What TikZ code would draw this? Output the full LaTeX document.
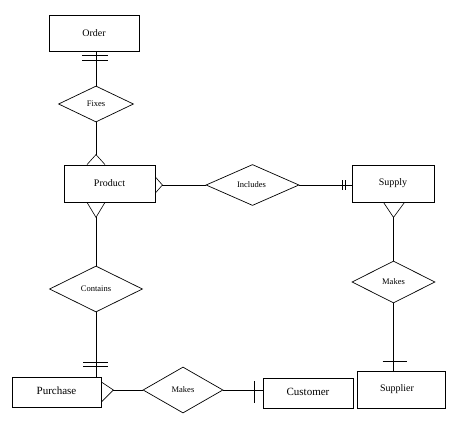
\documentclass[tikz,border=0pt]{standalone}
\usepackage{fontspec}
\setmainfont{Liberation Serif}
\usetikzlibrary{shapes.geometric,calc}
\begin{document}
\begin{tikzpicture}[x=1pt,y=-1pt,
  ent/.style={draw,line width=0.8pt,rectangle,inner sep=0pt,font=\fontsize{10}{12}\selectfont},
  bigent/.style={ent,font=\fontsize{11}{13}\selectfont},
  rel/.style={draw,line width=0.7pt,diamond,inner sep=0pt,font=\fontsize{8.5}{10}\selectfont},
  conn/.style={line width=0.8pt},
  foot/.style={line width=0.6pt}]
\useasboundingbox (0,0) rectangle (459,432);
% entities
\node[ent,minimum width=90pt,minimum height=36pt] (order) at (94,33) {Order};
\node[ent,minimum width=91pt,minimum height=37pt] (product) at (109.5,183.5) {Product};
\node[ent,minimum width=82pt,minimum height=37pt] (supply) at (393,183.5) {Supply};
\node[bigent,minimum width=89pt,minimum height=30pt] (purchase) at (56.5,392) {\raisebox{3pt}{Purchase}};
\node[bigent,minimum width=90pt,minimum height=30pt] (customer) at (308,393) {\raisebox{3pt}{Customer}};
\node[ent,minimum width=88pt,minimum height=37pt] (supplier) at (401,389.5) {\hspace*{-8pt}Supplier};
% relationships
\node[rel,minimum width=75pt,minimum height=36pt] (fixes) at (96,104) {Fixes};
\node[rel,minimum width=93pt,minimum height=41pt] (includes) at (252.5,185) {\hspace*{-2pt}Includes};
\node[rel,minimum width=93pt,minimum height=46pt] (contains) at (96,289) {Contains};
\node[rel,minimum width=80pt,minimum height=46pt] (makesA) at (183,390) {Makes};
\node[rel,minimum width=83pt,minimum height=42pt] (makesB) at (393.5,282) {Makes};
% Order -- Fixes
\draw[conn] (fixes.north |- order.south) -- (fixes.north);
\draw[conn] ($(fixes.north |- order.south)+(-14,4)$) -- ++(26,0);
\draw[conn] ($(fixes.north |- order.south)+(-14,9)$) -- ++(26,0);
% Fixes -- Product (many)
\coordinate (pt) at ($(fixes.south |- product.north)+(0,-10)$);
\draw[conn] (fixes.south) -- (pt);
\draw[foot] ($(pt)+(-9,10)$) -- (pt) -- ($(pt)+(9,10)$);
% Product -- Contains (many)
\coordinate (pb) at ($(contains.north |- product.south)+(0,15)$);
\draw[conn] (pb) -- (contains.north);
\draw[foot] ($(pb)+(-9,-15)$) -- (pb) -- ($(pb)+(9,-15)$);
% Product -- Includes (many)
\coordinate (pr) at ($(product.east |- includes.west)+(7,0)$);
\draw[conn] (pr) -- (includes.west);
\draw[foot] ($(pr)+(-7,-8)$) -- (pr) -- ($(pr)+(-7,8)$);
% Includes -- Supply (one and only one)
\draw[conn] (includes.east) -- (includes.east -| supply.west);
\draw[conn] ($(includes.east -| supply.west)+(-9,-5)$) -- ++(0,10);
\draw[conn] ($(includes.east -| supply.west)+(-6,-5)$) -- ++(0,10);
% Supply -- Makes (many)
\coordinate (sb) at ($(makesB.north |- supply.south)+(0,15)$);
\draw[conn] (sb) -- (makesB.north);
\draw[foot] ($(sb)+(-10,-15)$) -- (sb) -- ($(sb)+(11,-15)$);
% Makes -- Supplier (one)
\draw[conn] (makesB.south) -- (makesB.south |- supplier.north);
\draw[conn] ($(makesB.south |- supplier.north)+(-11,-9)$) -- ++(24,0);
% Contains -- Purchase (one and only one)
\draw[conn] (contains.south) -- (contains.south |- purchase.north);
\draw[conn] ($(contains.south |- purchase.north)+(-13,-14)$) -- ++(25,0);
\draw[conn] ($(contains.south |- purchase.north)+(-13,-10)$) -- ++(25,0);
% Purchase -- Makes (many)
\coordinate (pu) at ($(purchase.east |- makesA.west)+(12,0)$);
\draw[conn] (pu) -- (makesA.west);
\draw[foot] ($(pu)+(-12,-8)$) -- (pu) -- ($(pu)+(-12,12)$);
% Makes -- Customer (one)
\draw[conn] (makesA.east) -- (makesA.east -| customer.west);
\draw[conn] ($(makesA.east -| customer.west)+(-8,-9)$) -- ++(0,22);
\end{tikzpicture}
\end{document}
